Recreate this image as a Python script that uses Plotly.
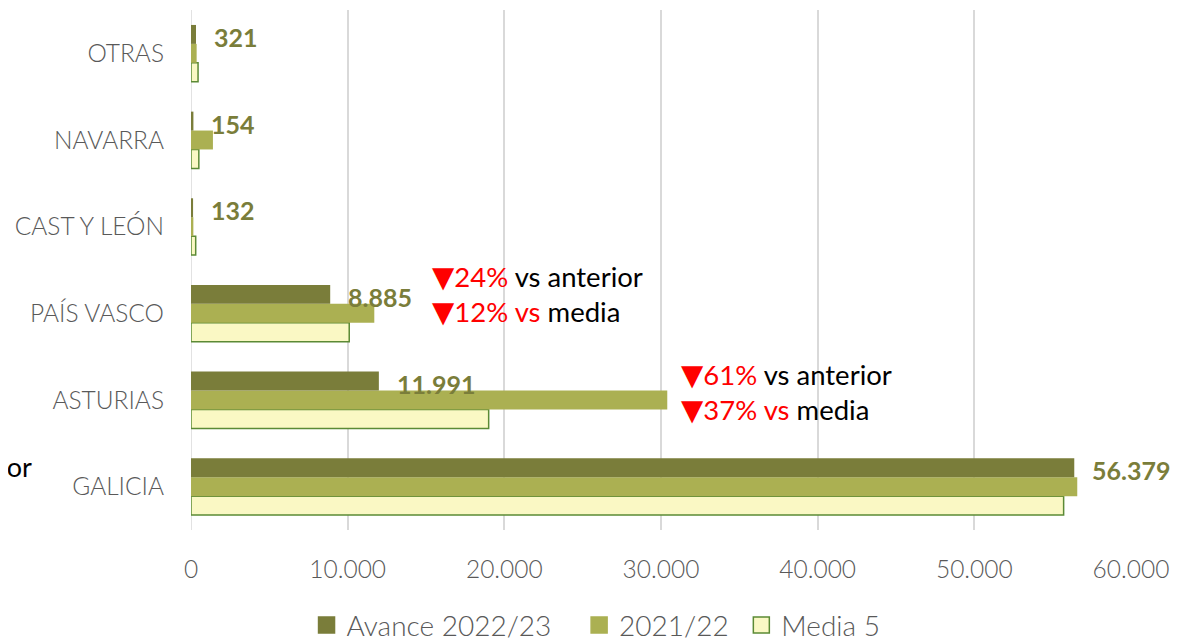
import plotly.graph_objects as go

# datos (de abajo a arriba, como los pinta plotly)
regiones = ["GALICIA", "ASTURIAS", "PAÍS VASCO", "CAST Y LEÓN", "NAVARRA", "OTRAS"]
avance_2022_23 = [56379, 11991, 8885, 132, 154, 321]
campana_2021_22 = [56570, 30400, 11700, 150, 1400, 360]
media_5 = [55700, 19000, 10100, 300, 500, 450]

etiquetas_x = [0, 10000, 20000, 30000, 40000, 50000, 60000]

colors = {
    'avance': '#7A7D3A',
    'anterior': '#ABB052',
    'media': '#FAF8C4',
    'media_borde': '#5B8A35',
    'grid': '#D9D9D9',
    'text': '#595959',
    'label': '#7A7D3A',
    'rojo': '#FF0000',
}
FUENTE = "Lato, 'Open Sans', sans-serif"

fig = go.Figure()

# orden de trazas: media abajo, avance arriba dentro de cada grupo
fig.add_trace(go.Bar(
    y=regiones, x=media_5, orientation='h', name='Media 5', showlegend=False,
    marker=dict(color=colors['media'], line=dict(color=colors['media_borde'], width=1.5)),
))
fig.add_trace(go.Bar(
    y=regiones, x=campana_2021_22, orientation='h', name='2021/22', showlegend=False,
    marker=dict(color=colors['anterior'], line=dict(width=0)),
))
fig.add_trace(go.Bar(
    y=regiones, x=avance_2022_23, orientation='h', name='Avance 2022/23', showlegend=False,
    marker=dict(color=colors['avance'], line=dict(width=0)),
))

# leyenda con cuadrados más grandes
for nombre, relleno, borde in [
    ('Avance 2022/23\u00a0\u00a0\u00a0', colors['avance'], colors['avance']),
    ('2021/22\u00a0', colors['anterior'], colors['anterior']),
    ('Media 5', colors['media'], colors['media_borde']),
]:
    fig.add_trace(go.Scatter(
        x=[None], y=[None], mode='markers', name=nombre,
        marker=dict(symbol='square', size=18, color=relleno, line=dict(color=borde, width=1.5)),
    ))

# etiquetas de valor del avance
for reg, val in zip(regiones, avance_2022_23):
    fig.add_annotation(
        x=val, y=reg, xref='x', yref='y',
        text=f"<b>{val:,}</b>".replace(",", "."),
        showarrow=False, xanchor='left', yanchor='middle',
        xshift=16, yshift=16.5,
        font=dict(family=FUENTE, size=25, color=colors['label']),
    )

# comentarios de variación
TRI = "<span style='font-family:DejaVu Sans;font-size:29px'>▼</span>"


def variacion(reg, x, pct_ant, pct_med, dy):
    fig.add_annotation(
        x=x, y=reg, xref='x', yref='y', showarrow=False,
        xanchor='left', yanchor='middle', yshift=dy + 35,
        text=f"<span style='color:{colors['rojo']}'>{TRI}{pct_ant}%</span> vs anterior",
        font=dict(family=FUENTE, size=27.5, color='black'),
    )
    fig.add_annotation(
        x=x, y=reg, xref='x', yref='y', showarrow=False,
        xanchor='left', yanchor='middle', yshift=dy,
        text=f"<span style='color:{colors['rojo']}'>{TRI}{pct_med}% vs</span> media",
        font=dict(family=FUENTE, size=27.5, color='black'),
    )


variacion("PAÍS VASCO", 15250, 24, 12, 1)
variacion("ASTURIAS", 31140, 61, 37, -10)

# texto cortado a la izquierda (caja de texto fuera del lienzo)
fig.add_annotation(
    x=0, y="GALICIA", xref='paper', yref='y', showarrow=False,
    xanchor='right', yanchor='middle', xshift=-157, yshift=20,
    text="vs anterior", font=dict(family=FUENTE, size=27, color='black'),
)

# la página tiene 8px de margen en body: se compensa en los márgenes
fig.update_layout(
    width=1180, height=641,
    margin=dict(l=183, r=57, t=2, b=119),
    plot_bgcolor='white', paper_bgcolor='white',
    barmode='group', bargap=0.345, bargroupgap=0,
    font=dict(family=FUENTE, color=colors['text'], size=22),
    showlegend=True,
    legend=dict(orientation='h', xref='container', x=0.253, xanchor='left',
                yref='container', y=0.037, yanchor='middle',
                font=dict(size=28, color=colors['text'], weight=300),
                itemwidth=30, traceorder='normal'),
)

fig.update_xaxes(
    range=[0, 60000], tickvals=etiquetas_x,
    ticktext=[f"{v:,}".replace(",", ".") for v in etiquetas_x],
    showgrid=True, gridcolor=colors['grid'], gridwidth=1.5,
    zeroline=False, showline=False, ticks='',
    ticklabelstandoff=22,
    tickfont=dict(size=24.5, color=colors['text'], weight=300),
)
fig.update_yaxes(
    showgrid=False, zeroline=False, showline=False, ticks='',
    ticklabelstandoff=26,
    tickfont=dict(size=24.5, color=colors['text'], weight=300),
)

fig.add_shape(type='line', xref='x', yref='paper', x0=0, x1=0, y0=0, y1=1,
              line=dict(color=colors['grid'], width=1.5), layer='below')

fig.write_html("out.html")
